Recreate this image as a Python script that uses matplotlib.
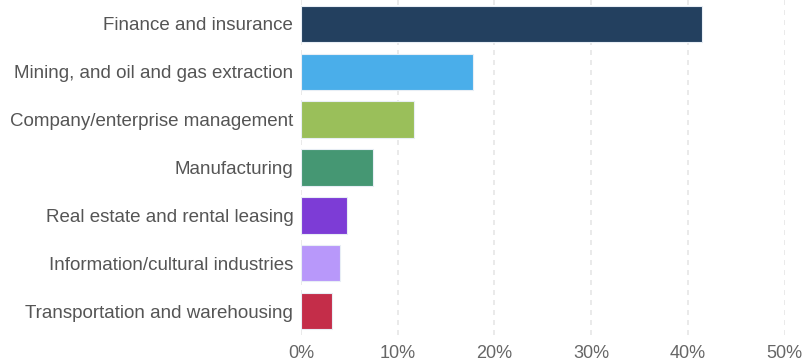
import matplotlib.pyplot as plt
from matplotlib.ticker import FuncFormatter

industries = [
    'Finance and insurance',
    'Mining, and oil and gas extraction',
    'Company/enterprise management',
    'Manufacturing',
    'Real estate and rental leasing',
    'Information/cultural industries',
    'Transportation and warehousing',
]
shares = [41.5, 17.8, 11.7, 7.4, 4.8, 4.0, 3.2]
colors = ['#23405f', '#4aaeea', '#9abf5a', '#459773', '#7d3cd6', '#b898fa', '#c42d49']
xticks = [0, 10, 20, 30, 40, 50]

plt.rcParams['font.family'] = ['Liberation Sans', 'DejaVu Sans']

fig = plt.figure(figsize=(8.1, 3.64), dpi=100)
ax = fig.add_axes([0.3716, 0.0797, 0.5972, 0.9203])

ypos = list(range(len(industries)))
ax.barh(ypos, shares, height=0.76, color=colors, edgecolor='#e8eef5',
        linewidth=0.8, zorder=3)

ax.set_ylim(len(industries) - 0.5, -0.5)
ax.set_xlim(0, 50)
ax.set_yticks(ypos)
ax.set_yticklabels(industries, fontsize=13.5, color='#555555')
ax.set_xticks(xticks)
ax.xaxis.set_major_formatter(FuncFormatter(lambda v, _: f'{v:.0f}%'))
ax.tick_params(axis='x', labelsize=13, colors='#666666', length=0, pad=7)
ax.tick_params(axis='y', length=0, pad=5.5)

# dashed vertical guides behind the bars
ax.grid(axis='x', color='#e6e6e6', linestyle=(0, (3, 3)), linewidth=1.2, zorder=0)
for s in ax.spines.values():
    s.set_visible(False)

fig.savefig('out.png', dpi=100)
